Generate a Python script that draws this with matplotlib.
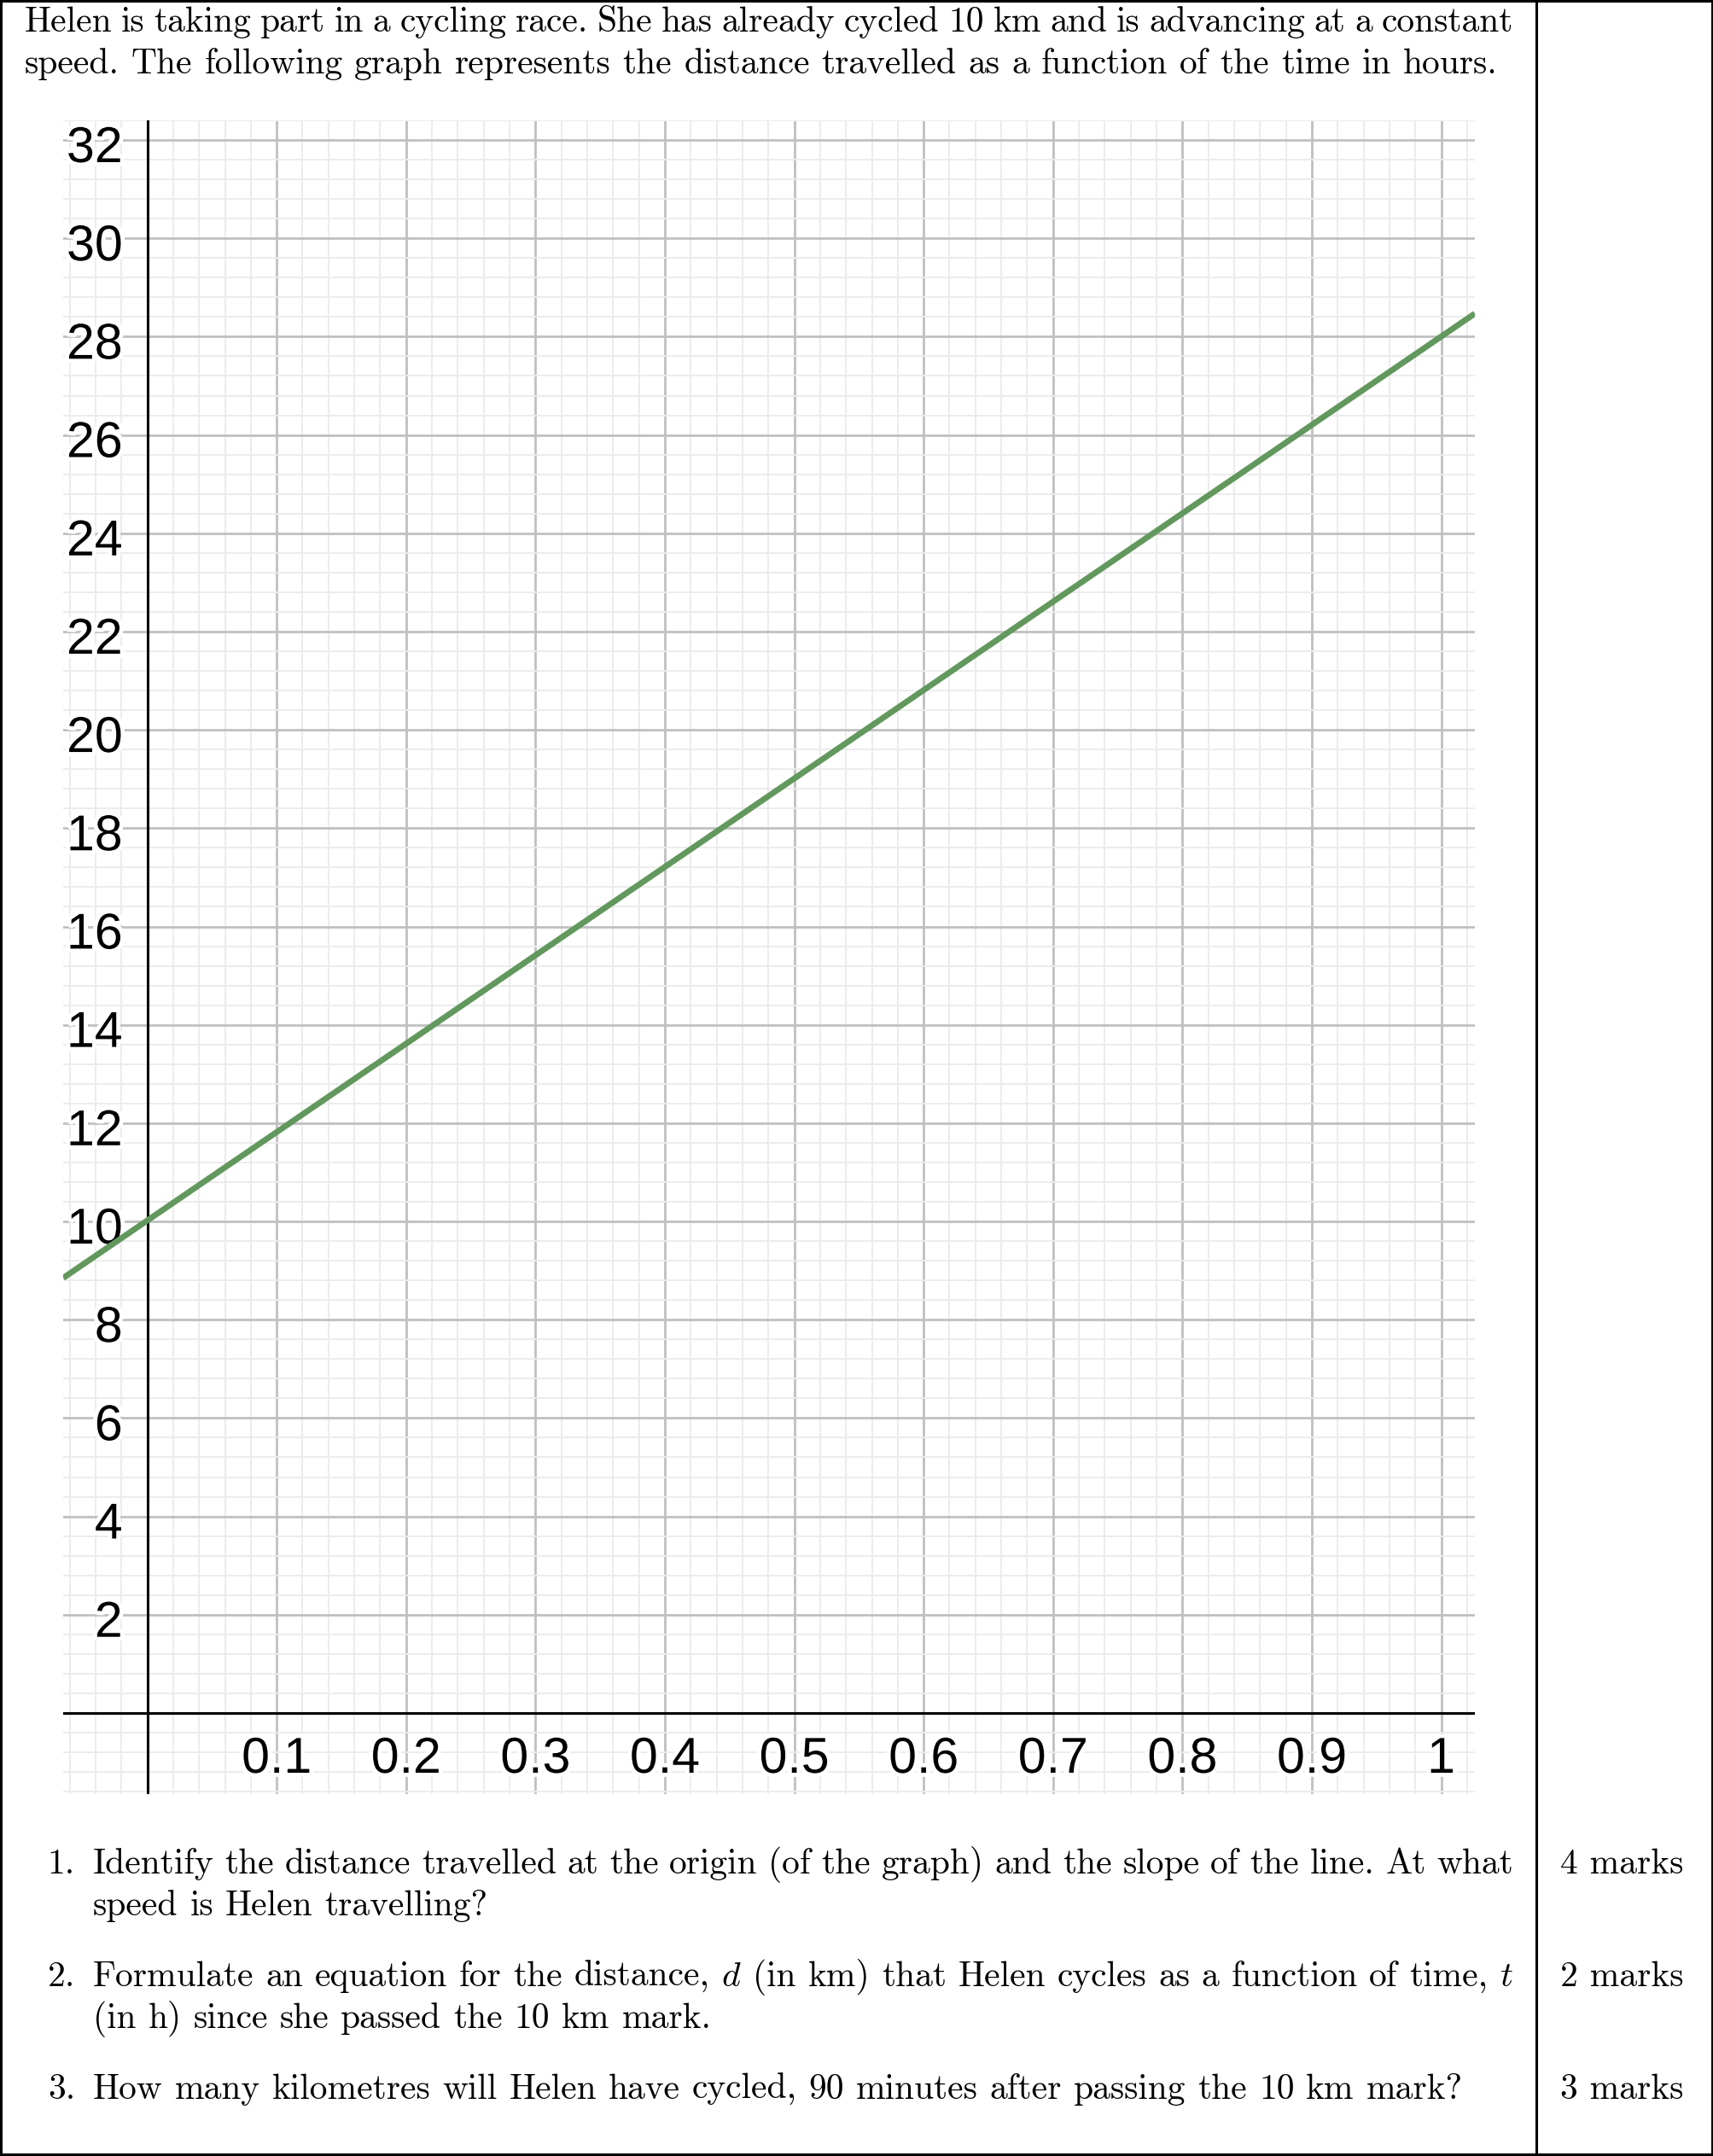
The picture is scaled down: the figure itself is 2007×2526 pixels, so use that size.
import matplotlib
matplotlib.use('Agg')
import matplotlib.pyplot as plt
import matplotlib.patheffects as pe
from matplotlib.lines import Line2D
from matplotlib.patches import Rectangle
import numpy as np

# ---- data ----
# the green line, read at the left and right edge of the grid
t_line = [-0.065, 1.026]
d_line = [8.85, 28.47]

x_ticks = [0.1, 0.2, 0.3, 0.4, 0.5, 0.6, 0.7, 0.8, 0.9, 1.0]
x_labels = ['0.1', '0.2', '0.3', '0.4', '0.5', '0.6', '0.7', '0.8', '0.9', '1']
y_ticks = [2, 4, 6, 8, 10, 12, 14, 16, 18, 20, 22, 24, 26, 28, 30, 32]

intro = ["Helen is taking part in a cycling race. She has already cycled 10 km and is advancing at a constant",
         "speed. The following graph represents the distance travelled as a function of the time in hours."]
questions = [
    ["Identify the distance travelled at the origin (of the graph) and the slope of the line. At what",
     "speed is Helen travelling?"],
    ["Formulate an equation for the distance, $d$ (in km) that Helen cycles as a function of time, $t$",
     "(in h) since she passed the 10 km mark."],
    ["How many kilometres will Helen have cycled, 90 minutes after passing the 10 km mark?"],
]
marks = ["4 marks", "2 marks", "3 marks"]

W, H = 2008, 2526
plt.rcParams['mathtext.fontset'] = 'cm'
fig = plt.figure(figsize=(W / 100, H / 100), dpi=100, facecolor='white')


def fx(px):
    return px / W


def fy(py):
    return 1 - py / H


TXT = dict(family='cmr10', fontsize=29.9, color='black')


def put_line(s, x0, x1, y, justify):
    # place a line of text, stretching the gaps if justify is set
    words = s.split(' ')
    objs = [fig.text(fx(x0), fy(y), w, va='baseline', ha='left', **TXT) for w in words]
    r = fig.canvas.get_renderer()
    widths = [o.get_window_extent(r).width for o in objs]
    if justify:
        gap = (x1 - x0 - sum(widths)) / (len(words) - 1)
    else:
        sp = fig.text(0, 0, 'a a', **TXT)
        sp2 = fig.text(0, 0, 'aa', **TXT)
        gap = sp.get_window_extent(r).width - sp2.get_window_extent(r).width
        sp.remove()
        sp2.remove()
    x = x0
    for o, w in zip(objs, widths):
        o.set_x(fx(x))
        x += w + gap


# ---- the graph ----
ax = fig.add_axes([fx(74), fy(2102), fx(1728) - fx(74), fy(141) - fy(2102)])
ax.set_xlim(-0.065, 1.026)
ax.set_ylim(-1.65, 32.4)
for s in ax.spines.values():
    s.set_visible(False)
ax.set_xticks(x_ticks)
ax.set_yticks([0] + y_ticks)
ax.set_xticks(np.arange(-0.06, 1.021, 0.02), minor=True)
ax.set_yticks(np.arange(-1.6, 32.41, 0.4), minor=True)
ax.tick_params(which='both', length=0, labelbottom=False, labelleft=False)
ax.grid(which='minor', color='#ececec', lw=1.4)
ax.grid(which='major', color='#c0c0c0', lw=2)
ax.set_axisbelow(True)

ax.axvline(0, color='black', lw=2.2, zorder=2)
ax.axhline(0, color='black', lw=2.2, zorder=2)

halo = [pe.withStroke(linewidth=7, foreground='white')]
for v in y_ticks:
    ax.text(-0.019, v - 0.45, str(v), ha='right', va='baseline', fontsize=42.5,
            family='Liberation Sans', path_effects=halo, zorder=2.5)
for v, lab in zip(x_ticks, x_labels):
    ax.text(v, -1.215, lab, ha='center', va='baseline', fontsize=42.5,
            family='Liberation Sans', path_effects=halo, zorder=2.5)

ax.plot(t_line, d_line, color='#62985d', lw=5, solid_capstyle='butt', zorder=4)

# ---- text ----
fig.canvas.draw()
put_line(intro[0], 29, 1773, 37, True)
put_line(intro[1], 29, 1773, 86, False)

q_base = [2195, 2327, 2459]
for i, (lines, y0) in enumerate(zip(questions, q_base)):
    fig.text(fx(88), fy(y0), f"{i + 1}.", ha='right', va='baseline', **TXT)
    for j, s in enumerate(lines):
        put_line(s, 109, 1773, y0 + 49 * j, j < len(lines) - 1)
    fig.text(fx(1828), fy(y0), marks[i], ha='left', va='baseline', **TXT)

# ---- frame ----
fig.add_artist(Rectangle((0, 0), 1, 1, transform=fig.transFigure, fill=False,
                         lw=4.3, edgecolor='black'))
fig.add_artist(Line2D([fx(1800), fx(1800)], [0, 1], transform=fig.transFigure,
                      lw=2.2, color='black'))

fig.savefig('out.png', dpi=100, facecolor='white')
